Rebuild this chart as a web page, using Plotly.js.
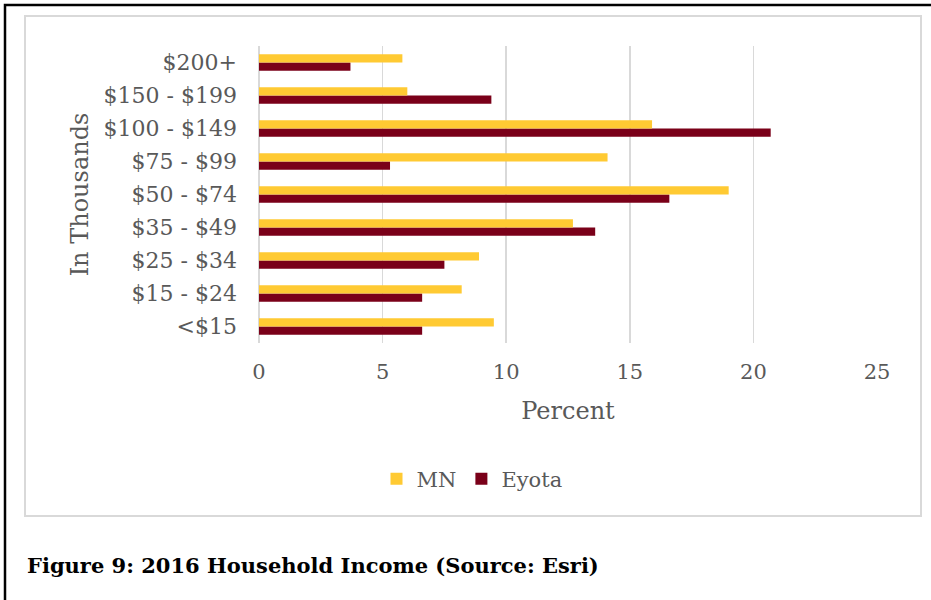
<!DOCTYPE html>
<html>
<head>
<meta charset="utf-8">
<script src="https://cdn.plot.ly/plotly-3.0.1.min.js"></script>
<style>html,body{margin:0;padding:0;background:#fff;}#chart{width:931px;height:600px;}</style>
</head>
<body>
<div id="chart"></div>
<script>
const categories = ["<$15", "$15 - $24", "$25 - $34", "$35 - $49", "$50 - $74", "$75 - $99", "$100 - $149", "$150 - $199", "$200+"];
const mnValues = [9.5, 8.2, 8.9, 12.7, 19.0, 14.1, 15.9, 6.0, 5.8];
const eyotaValues = [6.6, 6.6, 7.5, 13.6, 16.6, 5.3, 20.7, 9.4, 3.7];
const xTicks = [0, 5, 10, 15, 20, 25];

const serif = "DejaVu Serif";
const gray = "#595959";

const traces = [
  {type: "bar", orientation: "h", name: "Eyota", y: categories, x: eyotaValues,
   marker: {color: "#7A0019", line: {width: 0}}, hoverinfo: "x+y"},
  {type: "bar", orientation: "h", name: "MN", y: categories, x: mnValues,
   marker: {color: "#FFCA33", line: {width: 0}}, hoverinfo: "x+y"}
];

const L = 259, R = 877, T = 46, B = 343;
const px = v => (v - L) / (R - L);
const py = v => (B - v) / (B - T);

const layout = {
  width: 931, height: 600,
  margin: {l: L, r: 931 - R, t: T, b: 600 - B, pad: 0},
  paper_bgcolor: "#fff", plot_bgcolor: "#fff",
  font: {family: serif, color: gray, size: 21},
  barmode: "group", bargap: 0.5, bargroupgap: 0,
  showlegend: true,
  legend: {orientation: "h", traceorder: "reversed", x: px(472), xanchor: "center",
           y: py(479), yanchor: "middle", font: {family: serif, size: 21, color: gray},
           itemwidth: 30, bgcolor: "rgba(0,0,0,0)"},
  xaxis: {range: [0, 25], tickvals: xTicks, ticktext: xTicks.map(String), showgrid: true,
          gridcolor: "#d9d9d9", gridwidth: 1.5, zeroline: true, zerolinecolor: "#d9d9d9",
          zerolinewidth: 1.5, showline: false, ticks: "", fixedrange: true, ticklabelstandoff: 14,
          tickfont: {family: serif, size: 21, color: gray},
          title: {text: "Percent", font: {family: serif, size: 24, color: gray}, standoff: 19}},
  yaxis: {type: "category", categoryorder: "array", categoryarray: categories,
          showgrid: false, showline: false, zeroline: false, ticks: "", ticklabelstandoff: 21,
          tickfont: {family: serif, size: 22, color: gray}, fixedrange: true,
          title: {text: "In Thousands", font: {family: serif, size: 24, color: gray}, standoff: 8}},
  shapes: [
    {type: "rect", xref: "paper", yref: "paper", x0: px(25), x1: px(921), y0: py(516), y1: py(16),
     line: {color: "#d9d9d9", width: 2}, fillcolor: "rgba(0,0,0,0)", layer: "below"},
    {type: "rect", xref: "paper", yref: "paper", x0: px(5), x1: px(945), y0: py(615), y1: py(5),
     line: {color: "#000", width: 2.5}, fillcolor: "rgba(0,0,0,0)", layer: "above"}
  ],
  annotations: [
    {xref: "paper", yref: "paper", x: px(25), y: py(565), xanchor: "left", yanchor: "middle",
     text: "<b>Figure 9: 2016 Household Income (Source: Esri)</b>", showarrow: false,
     font: {family: serif, size: 21, color: "#000"}}
  ]
};

Plotly.newPlot("chart", traces, layout, {displayModeBar: false, staticPlot: true});
</script>
</body>
</html>
